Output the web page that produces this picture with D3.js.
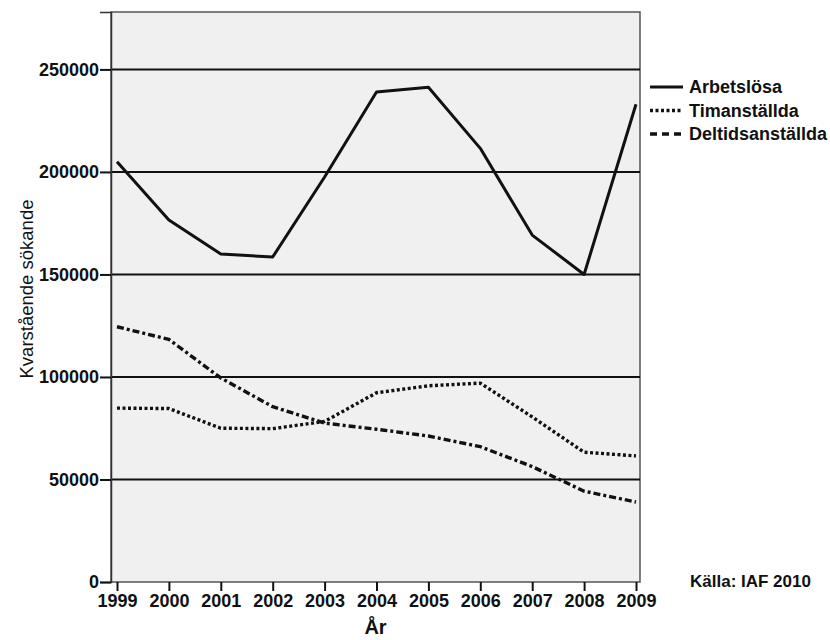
<!DOCTYPE html>
<html>
<head>
<meta charset="utf-8">
<script src="https://cdn.jsdelivr.net/npm/d3@7"></script>
<style>
  html, body { margin: 0; padding: 0; background: #fff; }
  svg { display: block; font-family: "Liberation Sans", Arial, sans-serif; }
</style>
</head>
<body>
<svg id="chart" width="830" height="640"></svg>
<script>
const years = [1999, 2000, 2001, 2002, 2003, 2004, 2005, 2006, 2007, 2008, 2009];
const arbetslosa = [205000, 176500, 160000, 158500, 197500, 239000, 241300, 211500, 169200, 150000, 233000];
const timanstallda = [84800, 84600, 75000, 74800, 78300, 92300, 95700, 97000, 80500, 63300, 61500];
const deltidsanstallda = [124500, 118300, 99500, 85500, 77500, 74500, 71200, 66000, 56300, 44300, 39000];
const yTicks = [0, 50000, 100000, 150000, 200000, 250000];
const gridValues = [50000, 100000, 150000, 200000, 250000];
const seriesNames = ["Arbetslösa", "Timanställda", "Deltidsanställda"];
const yTitle = "Kvarstående sökande";
const xTitle = "År";
const sourceText = "Källa: IAF 2010";

const svg = d3.select("#chart");
const plot = { left: 111, right: 640, top: 12, bottom: 582 };

const x = d3.scaleLinear().domain([1999, 2009]).range([117, 636]);
const y = d3.scaleLinear().domain([0, 278000]).range([plot.bottom, plot.top]);

// plot background
svg.append("rect")
  .attr("x", plot.left).attr("y", plot.top)
  .attr("width", plot.right - plot.left).attr("height", plot.bottom - plot.top)
  .attr("fill", "#f0f0f0").attr("stroke", "#555").attr("stroke-width", 1.5);

// gridlines
svg.append("g").selectAll("line").data(gridValues).join("line")
  .attr("x1", plot.left).attr("x2", plot.right)
  .attr("y1", d => y(d)).attr("y2", d => y(d))
  .attr("stroke", "#111").attr("stroke-width", 2);

// y axis
const yAxis = svg.append("g")
  .attr("transform", `translate(${plot.left},0)`)
  .call(d3.axisLeft(y).tickValues(yTicks).tickSize(11).tickPadding(1).tickFormat(d3.format("d")));
yAxis.select(".domain").attr("stroke", "#333").attr("stroke-width", 1.5);
yAxis.selectAll(".tick line").attr("stroke", "#111").attr("stroke-width", 2);
yAxis.selectAll(".tick text")
  .attr("font-size", 18).attr("font-weight", "bold").attr("fill", "#111")
  .attr("font-family", "Liberation Sans, Arial, sans-serif");

// x axis
const xAxis = svg.append("g")
  .attr("transform", `translate(0,${plot.bottom})`)
  .call(d3.axisBottom(x).tickValues(years).tickSize(9).tickPadding(3).tickFormat(d3.format("d")));
xAxis.select(".domain").remove();
xAxis.selectAll(".tick line").attr("stroke", "#111").attr("stroke-width", 2);
xAxis.selectAll(".tick text")
  .attr("font-size", 18).attr("font-weight", "bold").attr("fill", "#111")
  .attr("font-family", "Liberation Sans, Arial, sans-serif");

// lines
const styles = [
  { data: arbetslosa, dash: null, width: 3 },
  { data: timanstallda, dash: "3,2.5", width: 3.4 },
  { data: deltidsanstallda, dash: "7,3,3,3", width: 3.4 }
];
const line = d3.line().x((d, i) => x(years[i])).y(d => y(d));
styles.forEach(s => {
  svg.append("path")
    .datum(s.data)
    .attr("d", line)
    .attr("fill", "none")
    .attr("stroke", "#111")
    .attr("stroke-width", s.width)
    .attr("stroke-linejoin", "round")
    .attr("stroke-dasharray", s.dash);
});

// legend
const legend = svg.append("g");
seriesNames.forEach((name, i) => {
  const ly = 87 + i * 23.5;
  legend.append("line")
    .attr("x1", 650).attr("x2", 683).attr("y1", ly).attr("y2", ly)
    .attr("stroke", "#111").attr("stroke-width", styles[i].width)
    .attr("stroke-dasharray", i === 2 ? "7,5" : styles[i].dash);
  legend.append("text")
    .attr("x", 689).attr("y", ly).attr("dy", "0.35em")
    .attr("font-size", 18).attr("font-weight", "bold").attr("fill", "#111")
    .text(name);
});

// axis titles
svg.append("text")
  .attr("transform", `translate(33,${(plot.top + plot.bottom) / 2 - 8}) rotate(-90)`)
  .attr("text-anchor", "middle")
  .attr("font-size", 18.5).attr("fill", "#111")
  .text(yTitle);

svg.append("text")
  .attr("x", (plot.left + plot.right) / 2).attr("y", 634)
  .attr("text-anchor", "middle")
  .attr("font-size", 20).attr("font-weight", "bold").attr("fill", "#111")
  .text(xTitle);

// source
svg.append("text")
  .attr("x", 690).attr("y", 587)
  .attr("font-size", 17).attr("font-weight", "bold").attr("fill", "#111")
  .text(sourceText);
</script>
</body>
</html>
